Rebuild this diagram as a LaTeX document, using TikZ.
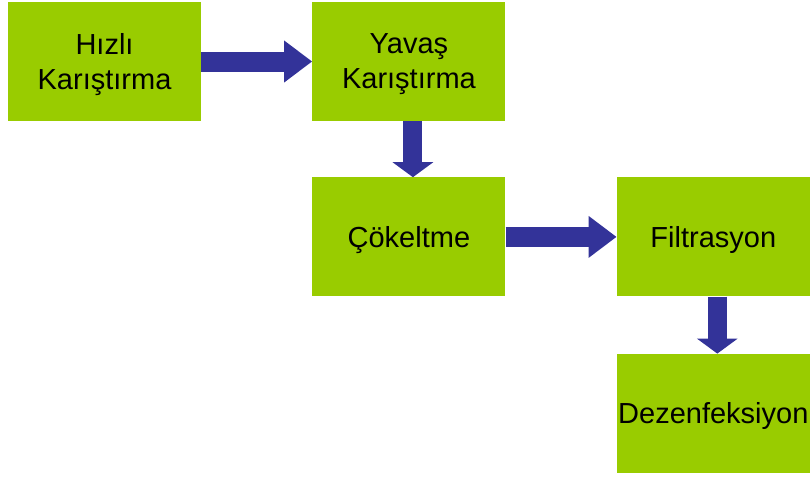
\documentclass[tikz,border=0pt]{standalone}
\usepackage{fontspec}
\setmainfont{Liberation Sans}
\usepackage{tikz}
\usetikzlibrary{arrows.meta,positioning}
\definecolor{c1}{RGB}{153,204,0}
\definecolor{c2}{RGB}{51,51,153}

\begin{document}
\begin{tikzpicture}[
    stage/.style={fill=c1, minimum width=193pt, minimum height=119pt, inner sep=0pt, align=center, text depth=0pt, font=\fontsize{29}{35}\selectfont},
    flow/.style={draw=c2, line width=20pt, -{Triangle[width=40pt,length=28pt]}},
    flowdown/.style={draw=c2, line width=19pt, -{Triangle[width=40pt,length=15pt]}}
]
    \useasboundingbox (0pt,0pt) rectangle (810pt,-477pt);

    % Hizli karistirma
    \node[stage] (hizli) at (104.5pt,-61.5pt) {Hızlı\\Karıştırma};

    % Yavas karistirma
    \node[stage, right=111pt of hizli] (yavas) {Yavaş\\Karıştırma};
    \draw[flow] (hizli) -- (yavas);

    % Cokeltme
    \node[stage, below=56pt of yavas] (cokeltme) {Çökeltme};
    \draw[flowdown] ([xshift=4pt]yavas.south) -- ([xshift=4pt]cokeltme.north);

    % Filtrasyon
    \node[stage, right=111pt of cokeltme] (filtre) {Filtrasyon};
    \draw[flow] (cokeltme) -- (filtre);

    % Dezenfeksiyon
    \node[stage, below=57pt of filtre] (dezenf) {Dezenfeksiyon};
    \draw[flowdown] ([xshift=4pt]filtre.south) -- ([xshift=4pt]dezenf.north);

\end{tikzpicture}
\end{document}
